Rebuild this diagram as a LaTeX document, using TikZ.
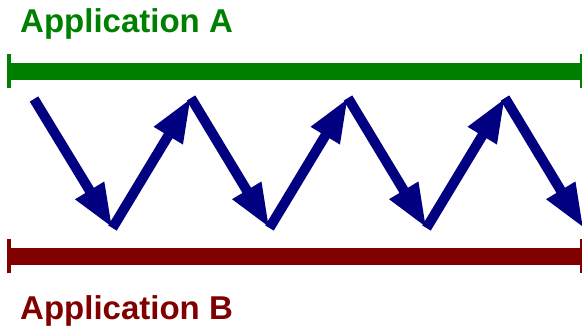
\documentclass[tikz,border=0pt]{standalone}
\usepackage{fontspec}
\setmainfont{Liberation Sans}
\usetikzlibrary{arrows.meta}
\definecolor{appgreen}{RGB}{0,128,0}
\definecolor{appred}{RGB}{128,0,0}
\definecolor{msgblue}{RGB}{0,0,128}

\begin{document}
\begin{tikzpicture}[x=1pt, y=-1pt,
    timeline/.style={line width=17pt, {Bar[width=34pt, line width=4pt]}-{Bar[width=34pt, line width=4pt]}},
    applabel/.style={anchor=base west, inner sep=0pt, font=\fontsize{33}{36}\selectfont\bfseries},
    msg/.style={draw=msgblue, line width=10pt, -{Triangle[length=44pt, width=31pt]}}
]
\useasboundingbox (0,0) rectangle (582,328);

% Application labels
\node[applabel, text=appgreen] (labA) at (20,33) {Application A};
\node[applabel, text=appred] (labB) at (20,320) {Application B};

% Timelines
\coordinate (a0) at (7,71.5);
\coordinate (a1) at (584,71.5);
\coordinate (b0) at (7,256.5);
\coordinate (b1) at (584,256.5);
\draw[timeline, appgreen] (a0) -- (a1);
\draw[timeline, appred] (b0) -- (b1);

% Message zigzag
\coordinate (m0) at (34,99);
\coordinate (m1) at (112.5,228);
\coordinate (m2) at (191,98);
\coordinate (m3) at (269.5,228);
\coordinate (m4) at (348,98);
\coordinate (m5) at (426.5,228);
\coordinate (m6) at (505,98);
\coordinate (m7) at (583.5,228);

\draw[msg] (m0) -- (m1);
\draw[msg] (m1) -- (m2);
\draw[msg] (m2) -- (m3);
\draw[msg] (m3) -- (m4);
\draw[msg] (m4) -- (m5);
\draw[msg] (m5) -- (m6);
\draw[msg] (m6) -- (m7);

\end{tikzpicture}
\end{document}
